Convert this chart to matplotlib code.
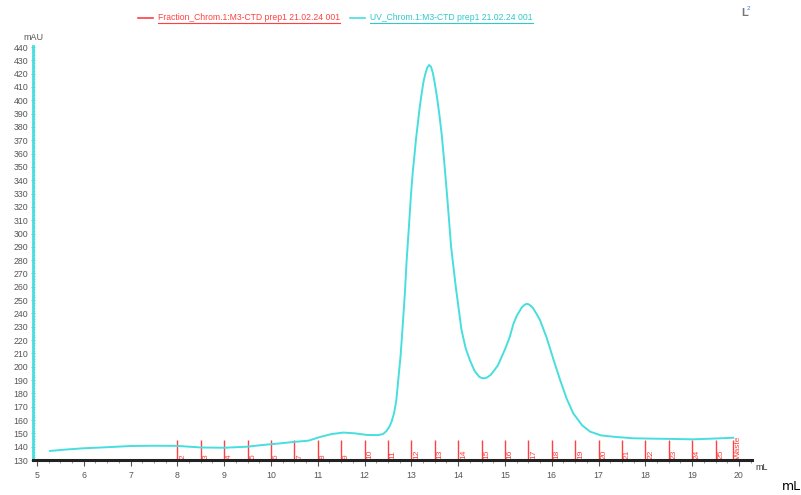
import matplotlib
matplotlib.use('Agg')
import matplotlib.pyplot as plt
from matplotlib.ticker import MultipleLocator
from matplotlib.lines import Line2D

# UV trace (mL, mAU)
uv_ml = [5.28, 5.6, 6.0, 6.5, 7.0, 7.5, 8.0, 8.5, 9.0, 9.5, 9.8, 10.2, 10.5, 10.8,
         11.05, 11.3, 11.55, 11.8, 12.05, 12.3, 12.4, 12.47, 12.53, 12.58, 12.63,
         12.68, 12.72, 12.77, 12.81, 12.86, 12.9, 12.95, 12.99, 13.03, 13.07, 13.1,
         13.14, 13.18, 13.22, 13.26, 13.3, 13.34, 13.38, 13.42, 13.46, 13.5, 13.55,
         13.6, 13.65, 13.7, 13.77, 13.85, 13.95, 14.07, 14.16, 14.25, 14.35, 14.45,
         14.5, 14.56, 14.62, 14.7, 14.85, 15.0, 15.1, 15.18, 15.25, 15.3, 15.36, 15.42,
         15.46, 15.5, 15.55, 15.6, 15.67, 15.75, 15.89, 16.05, 16.18, 16.32, 16.46,
         16.65, 16.82, 17.05, 17.31, 17.74, 18.2, 18.6, 19.0, 19.4, 19.88]
uv_mau = [136.8, 137.8, 138.8, 139.6, 140.5, 140.7, 140.6, 139.4, 139.2, 140.0, 141.2,
          142.5, 143.6, 144.5, 147.3, 149.5, 150.6, 150.0, 148.8, 148.7, 149.6, 151.8,
          155, 159, 165, 175, 190, 208, 228, 254, 280, 306, 328, 346, 360, 371,
          383, 395, 405, 414, 420, 424.5, 426.5, 425.2, 420.5, 413, 402,
          389, 374, 355, 326, 290, 260, 228, 214, 205, 197, 192.5,
          191.6, 191.3, 192, 194, 201, 213, 222, 232, 238, 241, 244.5, 246.5,
          247.2, 247, 245.8, 244, 240, 235, 222, 204, 190, 176, 165,
          156, 151.3, 148.5, 147.5, 146.3, 146.0, 145.8, 145.5, 146.0, 146.7]

# fractions
frac_ml = [8.0, 8.5, 9.0, 9.5, 10.0, 10.5, 11.0, 11.5, 12.0, 12.5, 13.0, 13.5, 14.0,
           14.5, 15.0, 15.5, 16.0, 16.5, 17.0, 17.5, 18.0, 18.5, 19.0, 19.5, 19.87]
frac_lab = ['2', '3', '4', '5', '6', '7', '8', '9', '10', '11', '12', '13', '14',
            '15', '16', '17', '18', '19', '20', '21', '22', '23', '24', '25', 'Waste']

CYAN = '#48DEDE'
RED = '#FF4040'
GRAY = '#555555'

plt.rcParams['font.family'] = ['Liberation Sans', 'DejaVu Sans']

fig = plt.figure(figsize=(8.01, 4.95), dpi=100)
W, H = 801, 495
ax = fig.add_axes([33 / W, 1 - 460 / H, (752 - 33) / W, (460 - 45.7) / H])

ax.plot(uv_ml, uv_mau, color=CYAN, linewidth=1.4, zorder=3,
        solid_joinstyle='round')
ax.vlines(frac_ml, 130, 145, color=RED, linewidth=1.0, zorder=2)
for xm, lab in zip(frac_ml, frac_lab):
    ax.text(xm + 0.04, 130.8, lab, rotation=90, color=RED, fontsize=6,
            ha='left', va='bottom', zorder=2)

ax.set_xlim(4.915, 20.28)
ax.set_ylim(130, 441)

for s in ['top', 'right']:
    ax.spines[s].set_visible(False)
ax.spines['left'].set_color(CYAN)
ax.spines['left'].set_linewidth(2)
ax.spines['bottom'].set_color('#222222')
ax.spines['bottom'].set_linewidth(2.2)

ax.xaxis.set_major_locator(MultipleLocator(1))
ax.xaxis.set_minor_locator(MultipleLocator(0.25))
ax.yaxis.set_major_locator(MultipleLocator(10))
ax.yaxis.set_minor_locator(MultipleLocator(2))
ax.tick_params(axis='x', which='major', length=4, color=GRAY, labelcolor=GRAY,
               labelsize=6.3, pad=4)
ax.tick_params(axis='x', which='minor', length=2, color='#888888')
ax.tick_params(axis='y', which='major', length=3, color=CYAN, labelcolor=GRAY,
               labelsize=6.3, pad=2, direction='inout')
ax.tick_params(axis='y', which='minor', length=1.5, width=0.5, color=CYAN,
               direction='in')

fig.text(33 / W, 1 - 37 / H, 'mAU', fontsize=6.5, color=GRAY, ha='center', va='center')
fig.text(755 / W, 1 - 468 / H, 'mL', fontsize=6.5, color='#333333', ha='left', va='center')
fig.text(782 / W, 1 - 487 / H, 'mL', fontsize=9, color='black', ha='left', va='center',
         family='DejaVu Sans')

# legend at top with underlined text
fig.lines.append(Line2D([138 / W, 153 / W], [1 - 18 / H] * 2, color=RED, linewidth=1.2,
                        transform=fig.transFigure))
fig.lines.append(Line2D([350 / W, 365 / W], [1 - 18 / H] * 2, color=CYAN, linewidth=1.2,
                        transform=fig.transFigure))
t1 = fig.text(158 / W, 1 - 18 / H, 'Fraction_Chrom.1:M3-CTD prep1 21.02.24 001',
              fontsize=6.2, color=RED, ha='left', va='center')
t2 = fig.text(370 / W, 1 - 18 / H, 'UV_Chrom.1:M3-CTD prep1 21.02.24 001',
              fontsize=6.2, color='#30C8C8', ha='left', va='center')
fig.canvas.draw()
r = fig.canvas.get_renderer()
for t, c in [(t1, RED), (t2, '#30C8C8')]:
    bb = t.get_window_extent(r)
    fig.lines.append(Line2D([bb.x0 / W, bb.x1 / W], [(bb.y0 - 0.5) / H] * 2, color=c,
                            linewidth=0.8, transform=fig.transFigure))

# small icon top right
fig.text(741 / W, 1 - 13 / H, 'L', fontsize=8, color='#777777', ha='left', va='center',
         fontweight='bold')
fig.text(747 / W, 1 - 9 / H, '2', fontsize=4.5, color='#4477DD', ha='left', va='center')

fig.savefig('out.png', dpi=100)
